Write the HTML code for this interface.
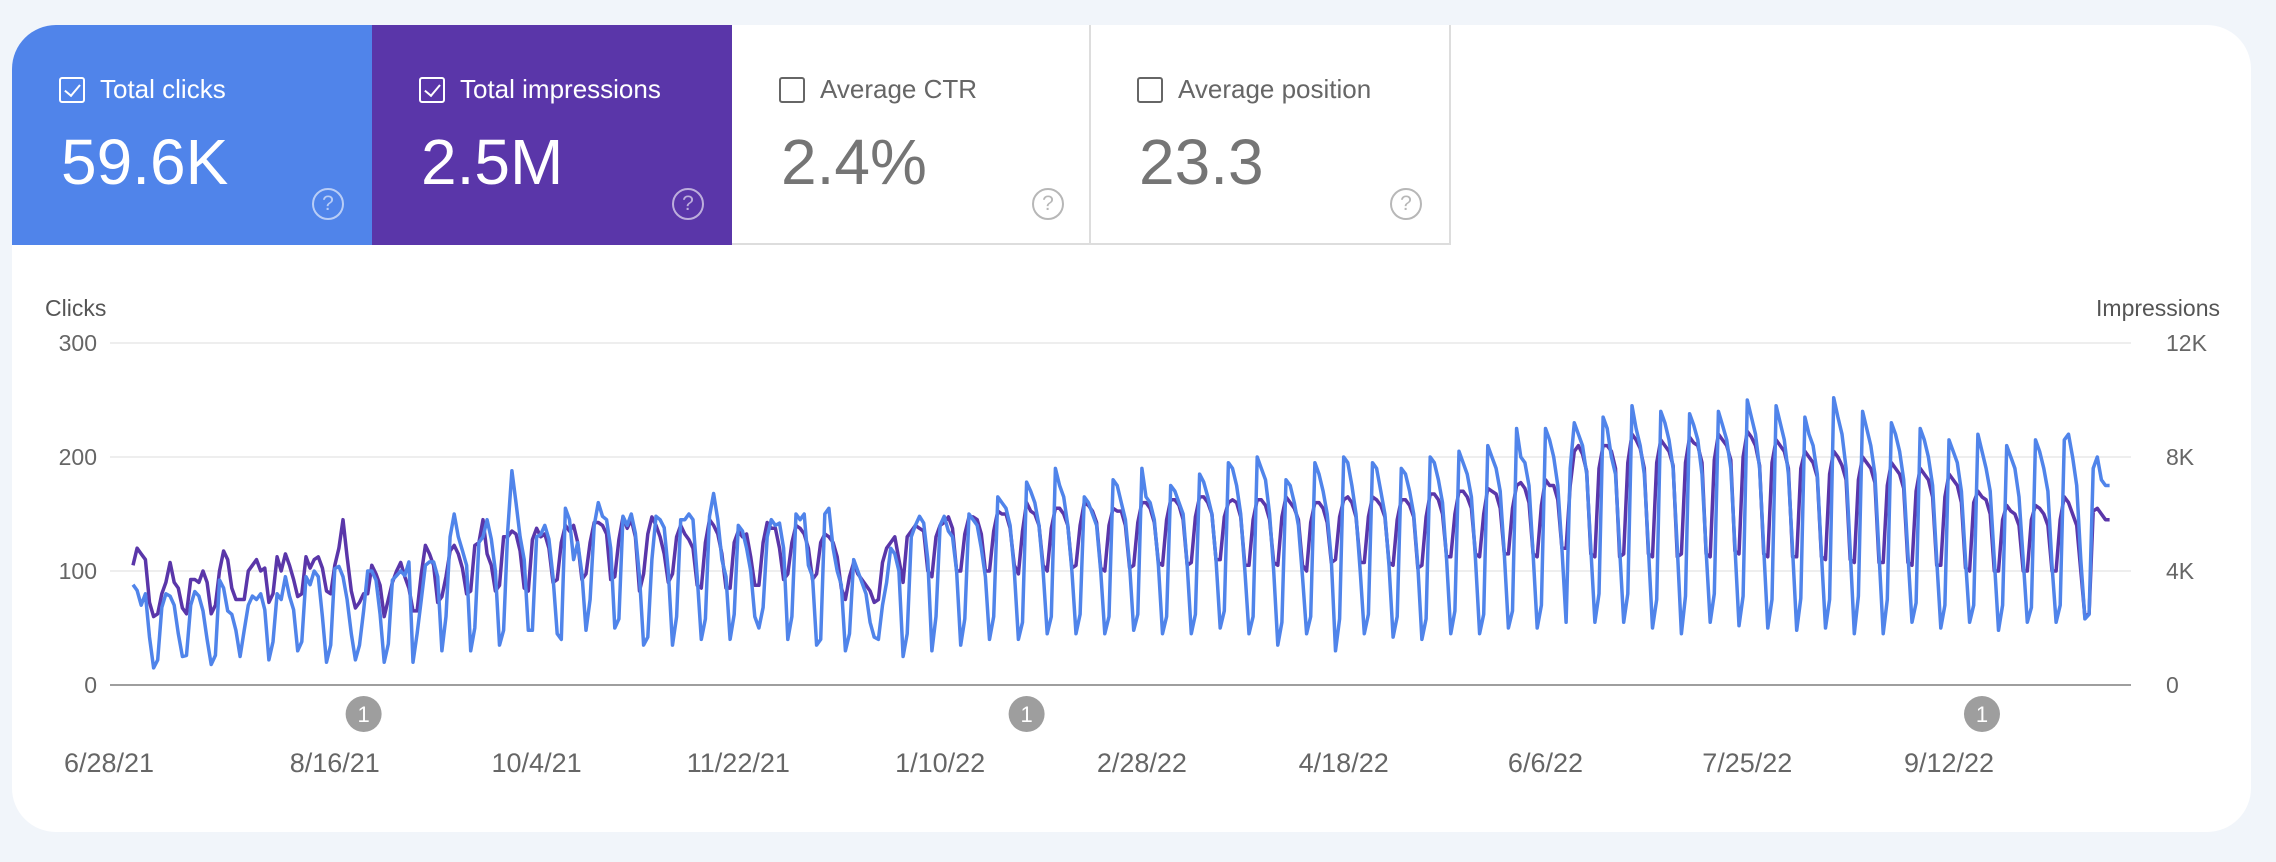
<!DOCTYPE html>
<html><head><meta charset="utf-8">
<style>
body{margin:0;width:2276px;height:862px;background:#f1f5fa;font-family:"Liberation Sans",sans-serif;overflow:hidden;position:relative}
#card{position:absolute;left:12px;top:25px;width:2239px;height:807px;background:#fff;border-radius:44px;overflow:hidden}
.tile{position:absolute;top:0;height:220px;width:360px;box-sizing:border-box}
.lbl{position:absolute;left:47px;top:49px;font-size:26px;display:flex;align-items:center}
.cb{width:26px;height:26px;border:2.5px solid currentColor;border-radius:3px;margin-right:15px;box-sizing:border-box;position:relative}
.cb.on::after{content:"";position:absolute;left:7px;top:2px;width:7px;height:13px;border:solid currentColor;border-width:0 2.5px 2.5px 0;transform:rotate(40deg)}
.num{position:absolute;left:49px;top:100px;font-size:64px}
.help{position:absolute;left:300px;top:163px;width:28px;height:28px;border:2.5px solid currentColor;border-radius:50%;font-size:21px;text-align:center;line-height:28px;opacity:.6}
</style></head><body>
<div id="card">
<div class="tile" style="left:0;background:#5084ea;color:#fff"><div class="lbl"><div class="cb on"></div>Total clicks</div><div class="num">59.6K</div><div class="help">?</div></div>
<div class="tile" style="left:360px;background:#5a36a9;color:#fff"><div class="lbl"><div class="cb on"></div>Total impressions</div><div class="num">2.5M</div><div class="help">?</div></div>
<div class="tile" style="left:720px;width:359px;color:#666;border-right:2px solid #ddd;border-bottom:2px solid #ddd"><div class="lbl"><div class="cb"></div>Average CTR</div><div class="num" style="color:#757575">2.4%</div><div class="help" style="color:#888">?</div></div>
<div class="tile" style="left:1078px;width:361px;color:#666;border-right:2px solid #ddd;border-bottom:2px solid #ddd"><div class="lbl"><div class="cb"></div>Average position</div><div class="num" style="color:#757575">23.3</div><div class="help" style="color:#888">?</div></div>
</div>
<svg id="chart" width="2276" height="862" style="position:absolute;left:0;top:0" font-family="Liberation Sans, sans-serif"></svg>
<script>
const clicks=[
88,83,70,80,42,15,22, 68,80,78,70,45,25,26, 70,82,78,65,40,18,26, 92,85,65,62,48,25,48,
70,78,75,80,66,22,38, 80,75,95,78,66,30,38, 95,88,100,95,60,20,35, 102,104,95,75,45,22,35,
65,100,100,92,62,20,36, 92,96,100,96,108,20,45, 75,105,108,108,95,30,60, 130,150,130,118,105,30,50,
125,130,145,128,100,35,48, 135,188,160,130,110,48,48, 130,132,140,128,95,45,40, 155,145,110,125,98,48,75,
140,160,148,145,120,50,58, 148,140,150,133,95,35,42, 110,148,145,138,100,35,60, 145,145,150,145,95,40,58,
148,168,145,110,95,40,62, 140,135,120,100,60,50,68, 130,145,140,142,120,40,60, 150,145,150,105,95,35,40,
150,155,120,100,88,30,45, 110,100,90,80,55,42,40, 70,90,120,115,100,25,45, 130,140,148,142,110,30,60,
140,148,135,130,100,35,58, 150,145,140,120,95,40,60, 165,160,155,140,100,40,55, 178,170,160,140,100,45,60,
190,175,165,140,100,45,62, 165,160,150,140,100,45,60, 180,175,160,145,105,48,62, 190,165,160,145,105,45,60,
175,170,160,150,105,45,62, 185,178,165,150,110,50,65, 195,190,175,150,100,45,60, 200,190,180,150,100,35,55,
180,175,160,140,95,45,60, 195,185,170,150,110,30,58, 200,195,175,150,100,45,62, 195,190,170,150,105,42,60,
190,185,170,150,105,40,58, 200,195,180,160,110,45,65, 205,195,185,165,110,45,62, 210,200,190,170,115,50,65,
225,200,195,175,115,50,70, 225,215,200,175,120,55,190, 230,220,210,185,120,55,80, 235,225,200,185,120,55,80,
245,225,210,185,120,50,75, 240,230,215,190,120,45,78, 238,228,215,185,118,55,80, 240,228,215,190,122,52,78,
250,235,220,190,120,50,75, 245,230,215,185,118,48,76, 235,220,210,185,115,50,75, 252,235,220,190,118,45,78,
240,225,210,185,115,45,75, 230,220,205,180,115,55,72, 225,215,200,175,110,50,70, 215,205,195,170,110,55,70,
220,205,190,170,110,48,70, 210,200,190,165,110,55,68, 215,205,190,170,105,55,70, 215,220,200,175,110,58,62,
190,200,180,175,175];
const impressionsK=[
4.2,4.8,4.6,4.4,2.9,2.4,2.5, 3.2,3.6,4.3,3.6,3.4,2.7,2.5, 3.7,3.7,3.6,4.0,3.6,2.5,2.8, 4.0,4.7,4.4,3.4,3.0,3.0,3.0,
4.0,4.2,4.4,4.0,4.1,2.9,3.2, 4.5,4.0,4.6,4.2,3.7,3.1,3.2, 4.5,4.1,4.4,4.5,4.1,3.3,3.2, 4.2,4.8,5.8,4.5,3.3,2.7,2.9,
3.2,3.2,4.2,3.9,3.5,2.4,3.0, 3.6,4.0,4.3,3.8,3.4,2.6,2.6, 3.9,4.9,4.6,4.2,2.9,3.1,3.8, 4.7,4.9,4.6,4.1,3.2,3.3,4.9,
5.0,5.8,4.6,4.2,3.3,3.5,5.2, 5.2,5.4,5.3,4.7,3.4,3.3,5.1, 5.5,5.2,5.3,4.8,3.6,3.7,5.0, 5.6,5.4,5.6,5.0,3.7,3.9,5.0,
5.7,5.7,5.6,5.3,3.7,3.8,5.1, 5.9,5.5,5.8,5.2,3.3,3.9,5.3, 5.9,5.6,5.2,4.6,3.6,3.9,5.2, 5.6,5.3,5.1,4.8,3.5,3.4,5.0,
5.8,5.6,5.3,4.6,3.4,3.4,5.0, 5.4,5.2,5.3,4.5,3.5,3.5,5.0, 5.7,5.5,5.5,4.8,3.7,3.9,5.0, 5.6,5.5,5.3,4.8,3.7,3.9,5.0,
5.3,5.2,5.0,4.5,3.4,3.0,3.8, 4.3,3.9,3.7,3.5,3.3,2.9,3.0, 4.3,4.8,5.0,5.2,4.4,3.6,5.2, 5.4,5.6,5.5,5.4,4.0,3.8,5.2,
5.6,5.7,5.9,5.5,4.0,4.0,5.3, 5.9,5.9,5.8,5.3,4.0,4.0,5.4, 6.1,6.0,6.0,5.5,4.2,3.9,5.4, 6.4,6.1,6.0,5.6,4.2,4.0,5.5,
6.2,6.2,6.0,5.6,4.1,4.2,5.6, 6.4,6.3,6.1,5.7,4.1,4.0,5.6, 6.2,6.1,6.1,5.6,4.1,4.2,5.7, 6.4,6.4,6.2,5.7,4.3,4.2,5.8,
6.5,6.5,6.3,5.8,4.2,4.3,5.9, 6.6,6.6,6.4,6.0,4.4,4.4,5.9, 6.4,6.5,6.4,5.9,4.2,4.2,5.8, 6.5,6.5,6.3,5.8,4.3,4.2,5.9,
6.6,6.4,6.2,5.8,4.2,4.0,5.7, 6.4,6.4,6.2,5.7,4.3,4.4,5.9, 6.5,6.6,6.4,5.9,4.3,4.3,5.9, 6.6,6.5,6.3,5.9,4.3,4.2,5.8,
6.5,6.5,6.3,5.9,4.1,4.2,5.9, 6.7,6.7,6.5,6.0,4.5,4.5,6.0, 6.8,6.8,6.6,6.2,4.6,4.5,6.0, 6.9,6.8,6.7,6.2,4.6,4.6,6.2,
7.0,7.1,6.9,6.4,4.6,4.5,6.3, 7.2,7.0,7.0,6.5,4.8,4.8,7.0, 8.2,8.4,8.1,7.5,4.6,4.5,7.6, 8.4,8.4,8.2,7.6,4.5,4.6,7.8,
8.8,8.6,8.3,7.6,4.6,4.5,7.8, 8.6,8.4,8.2,7.7,4.5,4.6,7.8, 8.7,8.5,8.4,7.8,4.6,4.5,7.9, 8.8,8.6,8.4,7.9,4.7,4.6,8.0,
8.9,8.7,8.4,7.7,4.6,4.5,7.8, 8.6,8.4,8.2,7.6,4.5,4.5,7.6, 8.2,8.0,7.8,7.3,4.5,4.4,7.4, 8.2,8.0,7.7,7.2,4.4,4.3,7.2,
8.0,7.8,7.6,7.1,4.3,4.3,7.0, 7.8,7.6,7.4,6.9,4.3,4.2,6.8, 7.6,7.4,7.2,6.6,4.2,4.2,6.6, 7.4,7.2,7.0,6.4,4.1,4.0,6.4,
6.8,6.6,6.5,6.0,4.0,4.0,5.8, 6.3,6.1,6.0,5.6,4.0,4.0,5.8, 6.3,6.2,6.0,5.6,4.0,4.0,5.8, 6.6,6.4,6.0,5.6,4.0,2.4,2.5,
6.1,6.2,6.0,5.8,5.8];
const clickTicks=[0,100,200,300];
const imprTicks=["0","4K","8K","12K"];
const dateLabels=["6/28/21","8/16/21","10/4/21","11/22/21","1/10/22","2/28/22","4/18/22","6/6/22","7/25/22","9/12/22"];
const annotationDays=[56,217,449];

const svg=document.getElementById('chart');const NS='http://www.w3.org/2000/svg';
const X0=133,PXD=4.118,Y0=685,H=342,GL=110,GR=2131;
const xS=d=>X0+d*PXD;
const yL=v=>Y0-v/300*H;
const yR=v=>Y0-v/12000*H;
function mk(t,a,txt){const e=document.createElementNS(NS,t);for(const k in a)e.setAttribute(k,a[k]);if(txt!==undefined)e.textContent=txt;svg.appendChild(e);return e;}
clickTicks.forEach((v,i)=>{
 const g=mk('line',{x1:GL,x2:GR,y1:yL(v),y2:yL(v),stroke:i?'#e8e8e8':'#9e9e9e','stroke-width':i?1.5:2});
 
 
 const t=mk('text',{x:97,y:yL(v)+8,'text-anchor':'end','font-size':23,fill:'#666'},v);
 
 
 const r=mk('text',{x:2166,y:yL(v)+8,'font-size':23,fill:'#666'},imprTicks[i]);
 
 
});
let t1=mk('text',{x:45,y:316,'font-size':23,fill:'#555'},'Clicks');


let t2=mk('text',{x:2220,y:316,'font-size':23,fill:'#555','text-anchor':'end'},'Impressions');


dateLabels.forEach((s,i)=>{
 const x=i===0?109:xS(i*49);
 const t=mk('text',{x:x,y:772,'text-anchor':'middle','font-size':27,fill:'#666'},s);
 
 
});
const pc=clicks.map((v,i)=>xS(i).toFixed(1)+','+yL(v).toFixed(1)).join(' ');
const pi=impressionsK.map((v,i)=>xS(i).toFixed(1)+','+yR(v*1000).toFixed(1)).join(' ');
const l2=mk('polyline',{points:pi,fill:'none',stroke:'#5a36a9','stroke-width':3.5,'stroke-linejoin':'round'});


const l1=mk('polyline',{points:pc,fill:'none',stroke:'#5084ea','stroke-width':3.5,'stroke-linejoin':'round'});


annotationDays.forEach(d=>{
 const c=mk('circle',{cx:xS(d),cy:714,r:18,fill:'#9e9e9e'});
 
 
 const t=mk('text',{x:xS(d),y:722,'text-anchor':'middle','font-size':22,fill:'#fff'},'1');
 
 
});
</script>
</body></html>
